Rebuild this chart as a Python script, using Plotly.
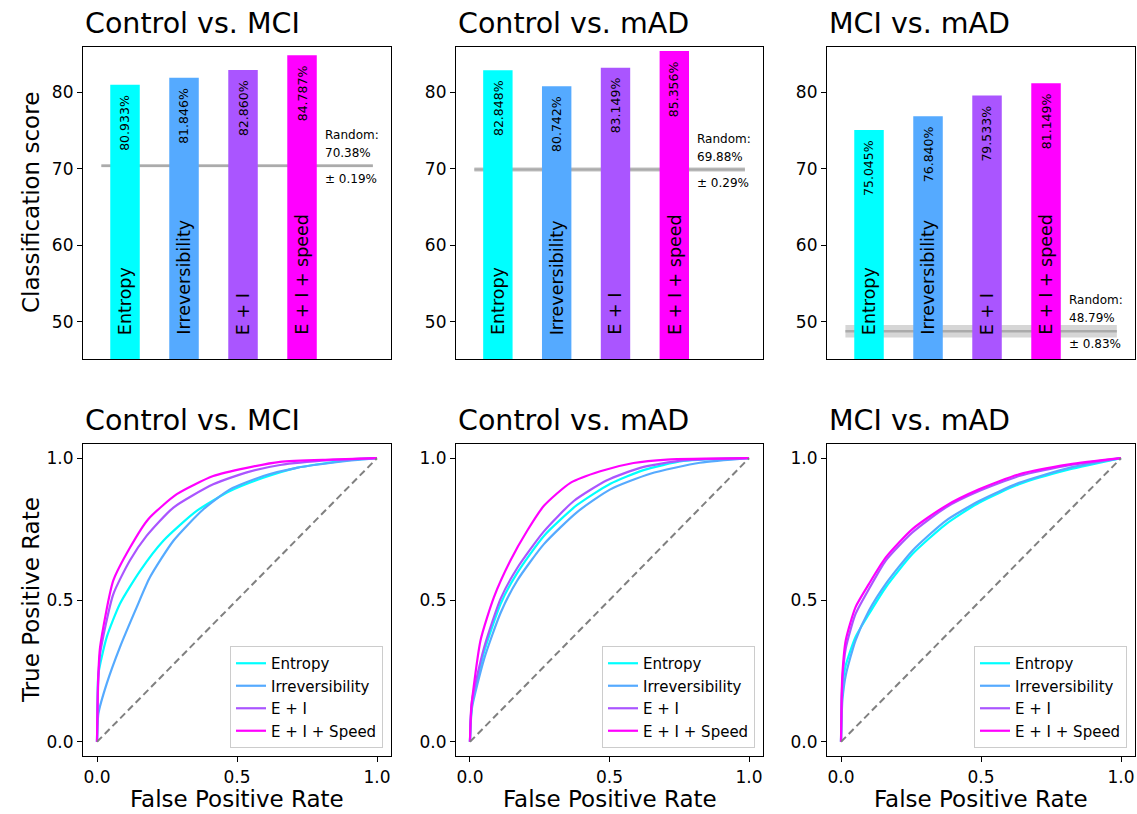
import plotly.graph_objects as go

# ---------------- data ----------------
panel_titles = ["Control vs. MCI", "Control vs. mAD", "MCI vs. mAD"]
bar_labels = ["Entropy", "Irreversibility", "E + I", "E + I + speed"]
legend_names = ["Entropy", "Irreversibility", "E + I", "E + I + Speed"]
colors = ["#00ffff", "#55aaff", "#aa55ff", "#ff00ff"]

scores_ctrl_mci = [80.933, 81.846, 82.860, 84.787]
scores_ctrl_mad = [82.848, 80.742, 83.149, 85.356]
scores_mci_mad = [75.045, 76.840, 79.533, 81.149]
random_mean = [70.38, 69.88, 48.79]
random_std = [0.19, 0.29, 0.83]

# ROC curves (fpr, tpr)
# Control vs. MCI
p1_entropy_fpr = [0, 0.002, 0.005, 0.035, 0.082, 0.154, 0.237, 0.356, 0.475, 0.594, 0.713, 0.892, 1]
p1_entropy_tpr = [0, 0.15, 0.24, 0.37, 0.487, 0.603, 0.709, 0.814, 0.884, 0.931, 0.966, 0.992, 1]
p1_irrev_fpr = [0, 0.002, 0.005, 0.035, 0.082, 0.142, 0.189, 0.273, 0.38, 0.475, 0.594, 0.713, 0.892, 1]
p1_irrev_tpr = [0, 0.06, 0.10, 0.206, 0.334, 0.475, 0.58, 0.709, 0.82, 0.89, 0.937, 0.966, 0.99, 1]
p1_ei_fpr = [0, 0.004, 0.011, 0.058, 0.118, 0.177, 0.273, 0.415, 0.535, 0.654, 0.832, 1]
p1_ei_tpr = [0, 0.2, 0.31, 0.52, 0.64, 0.726, 0.826, 0.908, 0.95, 0.976, 0.993, 1]
p1_eis_fpr = [0, 0.004, 0.011, 0.058, 0.118, 0.183, 0.285, 0.415, 0.535, 0.654, 0.832, 1]
p1_eis_tpr = [0, 0.22, 0.334, 0.568, 0.685, 0.785, 0.873, 0.937, 0.966, 0.987, 0.995, 1]
# Control vs. mAD
p2_entropy_fpr = [0, 0.003, 0.008, 0.05, 0.11, 0.169, 0.265, 0.384, 0.503, 0.622, 0.765, 1]
p2_entropy_tpr = [0, 0.08, 0.14, 0.315, 0.487, 0.595, 0.726, 0.835, 0.91, 0.958, 0.99, 1]
p2_irrev_fpr = [0, 0.003, 0.008, 0.05, 0.11, 0.169, 0.265, 0.384, 0.503, 0.646, 0.824, 1]
p2_irrev_tpr = [0, 0.07, 0.124, 0.29, 0.455, 0.568, 0.697, 0.81, 0.89, 0.945, 0.984, 1]
p2_ei_fpr = [0, 0.003, 0.008, 0.05, 0.11, 0.169, 0.265, 0.372, 0.491, 0.61, 0.765, 1]
p2_ei_tpr = [0, 0.085, 0.15, 0.33, 0.505, 0.612, 0.742, 0.849, 0.922, 0.966, 0.992, 1]
p2_eis_fpr = [0, 0.002, 0.005, 0.038, 0.086, 0.145, 0.205, 0.265, 0.36, 0.467, 0.586, 0.706, 1]
p2_eis_tpr = [0, 0.07, 0.124, 0.358, 0.51, 0.639, 0.744, 0.832, 0.913, 0.954, 0.983, 0.995, 1]
# MCI vs. mAD
p3_fpr = [0, 0.002, 0.005, 0.017, 0.052, 0.1, 0.16, 0.255, 0.374, 0.493, 0.636, 0.815, 1]
p3_entropy_tpr = [0, 0.12, 0.194, 0.27, 0.37, 0.451, 0.545, 0.662, 0.767, 0.843, 0.908, 0.96, 1]
p3_irrev_tpr = [0, 0.08, 0.147, 0.235, 0.358, 0.463, 0.557, 0.674, 0.779, 0.849, 0.913, 0.966, 1]
p3_ei_tpr = [0, 0.13, 0.218, 0.33, 0.451, 0.539, 0.639, 0.738, 0.826, 0.884, 0.937, 0.975, 1]
p3_eis_tpr = [0, 0.15, 0.24, 0.358, 0.475, 0.557, 0.65, 0.75, 0.832, 0.89, 0.943, 0.978, 1]

bar_scores = [scores_ctrl_mci, scores_ctrl_mad, scores_mci_mad]
roc_curves = [
    [(p1_entropy_fpr, p1_entropy_tpr), (p1_irrev_fpr, p1_irrev_tpr), (p1_ei_fpr, p1_ei_tpr), (p1_eis_fpr, p1_eis_tpr)],
    [(p2_entropy_fpr, p2_entropy_tpr), (p2_irrev_fpr, p2_irrev_tpr), (p2_ei_fpr, p2_ei_tpr), (p2_eis_fpr, p2_eis_tpr)],
    [(p3_fpr, p3_entropy_tpr), (p3_fpr, p3_irrev_tpr), (p3_fpr, p3_ei_tpr), (p3_fpr, p3_eis_tpr)],
]

# ---------------- layout helpers ----------------
W, H = 1137, 814
FONT = "DejaVu Sans"
cols_px = [(83, 391), (456, 763), (827, 1135)]
rows_px = [(47, 359), (444, 756)]


def xdom(c):
    return [c[0] / W, c[1] / W]


def ydom(r):
    return [1 - r[1] / H, 1 - r[0] / H]


fig = go.Figure()
annotations = []
shapes = []
layout_axes = {}

axis_common = dict(showline=True, mirror=True, linecolor="black", linewidth=1.2,
                   ticks="outside", ticklen=5, tickwidth=1.2, tickcolor="black",
                   showgrid=False, zeroline=False,
                   tickfont=dict(family=FONT, size=17, color="black"))

# ---------------- top row: bars ----------------
for p in range(3):
    n = p + 1
    xa = "x" if n == 1 else f"x{n}"
    ya = "y" if n == 1 else f"y{n}"
    vals = bar_scores[p]
    fig.add_trace(go.Bar(x=list(range(len(vals))), y=vals, width=0.5,
                         marker=dict(color=colors, line=dict(width=0)),
                         xaxis=xa, yaxis=ya, showlegend=False, hoverinfo="skip"))
    layout_axes[f"xaxis{n}"] = dict(axis_common, domain=xdom(cols_px[p]), range=[-0.712, 4.508],
                                    showticklabels=False, ticks="", anchor=ya)
    layout_axes[f"yaxis{n}"] = dict(axis_common, domain=ydom(rows_px[0]), range=[45.17, 85.87],
                                    tickvals=[50, 60, 70, 80], anchor=xa)
    # random baseline band and line
    rm, rs = random_mean[p], random_std[p]
    shapes.append(dict(type="rect", xref=xa, yref=ya, x0=-0.4, x1=4.2, y0=rm - rs, y1=rm + rs,
                       fillcolor="#d6d6d6", line=dict(width=0), layer="below"))
    shapes.append(dict(type="line", xref=xa, yref=ya, x0=-0.4, x1=4.2, y0=rm, y1=rm,
                       line=dict(color="#ababab", width=2.5), layer="below"))
    annotations.append(dict(x=3.35, y=rm, xref=xa, yref=ya, text="Random:", showarrow=False,
                            xanchor="left", yanchor="bottom", yshift=22,
                            font=dict(family=FONT, size=12, color="black")))
    annotations.append(dict(x=3.35, y=rm, xref=xa, yref=ya, text=f"{rm:.2f}%", showarrow=False,
                            xanchor="left", yanchor="bottom", yshift=4,
                            font=dict(family=FONT, size=12, color="black")))
    annotations.append(dict(x=3.35, y=rm, xref=xa, yref=ya, text=f"± {rs:.2f}%", showarrow=False,
                            xanchor="left", yanchor="top", yshift=-4,
                            font=dict(family=FONT, size=12, color="black")))
    for i, v in enumerate(vals):
        annotations.append(dict(x=i, y=v, xref=xa, yref=ya, text=f"{v:.3f}%", showarrow=False,
                                textangle=-90, xanchor="center", yanchor="top", yshift=-8,
                                font=dict(family=FONT, size=12.5, color="black")))
        annotations.append(dict(x=i, y=0.07, xref=xa, yref=f"{ya} domain", text=bar_labels[i],
                                showarrow=False, textangle=-90, xanchor="center", yanchor="bottom",
                                font=dict(family=FONT, size=17.5, color="black")))
    annotations.append(dict(x=cols_px[p][0] / W, y=1 - 42 / H, xref="paper", yref="paper",
                            text=panel_titles[p], showarrow=False, xanchor="left", yanchor="bottom",
                            font=dict(family=FONT, size=28.5, color="black")))

# ---------------- bottom row: ROC ----------------
for p in range(3):
    n = p + 4
    xa, ya = f"x{n}", f"y{n}"
    leg = "legend" if p == 0 else f"legend{p + 1}"
    for k, (fpr, tpr) in enumerate(roc_curves[p]):
        fig.add_trace(go.Scatter(x=fpr, y=tpr, mode="lines", name=legend_names[k],
                                 line=dict(color=colors[k], width=2.2, shape="spline", smoothing=0.6),
                                 xaxis=xa, yaxis=ya, legend=leg, legendgroup=f"g{p}{k}",
                                 hoverinfo="skip"))
    fig.add_trace(go.Scatter(x=[0, 1], y=[0, 1], mode="lines",
                             line=dict(color="#808080", width=2, dash="7px,4px"),
                             xaxis=xa, yaxis=ya, showlegend=False, hoverinfo="skip"))
    layout_axes[f"xaxis{n}"] = dict(axis_common, domain=xdom(cols_px[p]), range=[-0.05, 1.05],
                                    tickvals=[0, 0.5, 1], ticktext=["0.0", "0.5", "1.0"], anchor=ya)
    layout_axes[f"yaxis{n}"] = dict(axis_common, domain=ydom(rows_px[1]), range=[-0.05, 1.05],
                                    tickvals=[0, 0.5, 1], ticktext=["0.0", "0.5", "1.0"], anchor=xa)
    layout_axes[leg] = dict(x=(cols_px[p][1] - 8) / W, y=1 - (rows_px[1][1] - 8) / H,
                            xanchor="right", yanchor="bottom", bgcolor="rgba(255,255,255,0.8)",
                            bordercolor="#cccccc", borderwidth=1, tracegroupgap=0,
                            font=dict(family=FONT, size=15, color="black"))
    annotations.append(dict(x=cols_px[p][0] / W, y=1 - 439 / H, xref="paper", yref="paper",
                            text=panel_titles[p], showarrow=False, xanchor="left", yanchor="bottom",
                            font=dict(family=FONT, size=28.5, color="black")))
    annotations.append(dict(x=(cols_px[p][0] + cols_px[p][1]) / 2 / W, y=0,
                            xref="paper", yref="paper", text="False Positive Rate", showarrow=False,
                            xanchor="center", yanchor="bottom",
                            font=dict(family=FONT, size=23, color="black")))

annotations.append(dict(x=31 / W, y=1 - 203 / H, xref="paper", yref="paper", text="Classification score",
                        showarrow=False, textangle=-90, xanchor="center", yanchor="middle",
                        font=dict(family=FONT, size=23, color="black")))
annotations.append(dict(x=31 / W, y=1 - 600 / H, xref="paper", yref="paper", text="True Positive Rate",
                        showarrow=False, textangle=-90, xanchor="center", yanchor="middle",
                        font=dict(family=FONT, size=23, color="black")))

fig.update_layout(width=W, height=H, margin=dict(l=0, r=0, t=0, b=0, autoexpand=False),
                  paper_bgcolor="white", plot_bgcolor="white",
                  font=dict(family=FONT, color="black"),
                  annotations=annotations, shapes=shapes, **layout_axes)

fig.write_html("out.html", config={"displayModeBar": False},
               post_script="document.body.style.margin='0';document.body.style.overflow='hidden';")
